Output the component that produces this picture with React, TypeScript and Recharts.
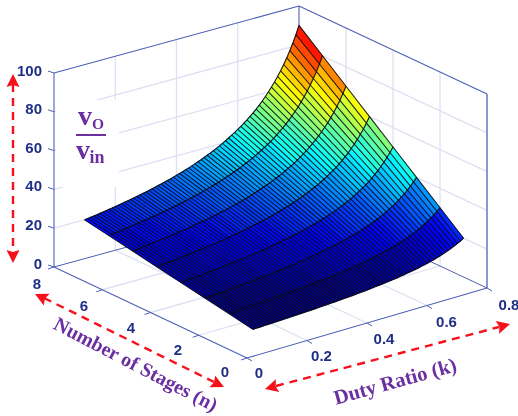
import React from 'react';
import { ScatterChart, Scatter, XAxis, YAxis } from 'recharts';

// one line per stage count, read along the duty ratio from 0.10 to 0.80
const dutyRatio = [
  0.1, 0.11, 0.12, 0.13, 0.14, 0.15, 0.16, 0.17, 0.18, 0.19,
  0.2, 0.21, 0.22, 0.23, 0.24, 0.25, 0.26, 0.27, 0.28, 0.29,
  0.3, 0.31, 0.32, 0.33, 0.34, 0.35, 0.36, 0.37, 0.38, 0.39,
  0.4, 0.41, 0.42, 0.43, 0.44, 0.45, 0.46, 0.47, 0.48, 0.49,
  0.5, 0.51, 0.52, 0.53, 0.54, 0.55, 0.56, 0.57, 0.58, 0.59,
  0.6, 0.61, 0.62, 0.63, 0.64, 0.65, 0.66, 0.67, 0.68, 0.69,
  0.7, 0.71, 0.72, 0.73, 0.74, 0.75, 0.76, 0.77, 0.78, 0.79, 0.8,
];
const stages = [1, 2, 3, 4, 5, 6, 7, 8];

const gainN1 = [
  4.4, 4.5, 4.5, 4.6, 4.7, 4.7, 4.8, 4.8, 4.9, 4.9,
  5.0, 5.1, 5.1, 5.2, 5.3, 5.3, 5.4, 5.5, 5.6, 5.6,
  5.7, 5.8, 5.9, 6.0, 6.1, 6.2, 6.3, 6.3, 6.5, 6.6,
  6.7, 6.8, 6.9, 7.0, 7.1, 7.3, 7.4, 7.5, 7.7, 7.8,
  8.0, 8.2, 8.3, 8.5, 8.7, 8.9, 9.1, 9.3, 9.5, 9.8,
  10.0, 10.3, 10.5, 10.8, 11.1, 11.4, 11.8, 12.1, 12.5, 12.9,
  13.3, 13.8, 14.3, 14.8, 15.4, 16.0, 16.7, 17.4, 18.2, 19.0, 20.0,
];
const gainN2 = [
  6.7, 6.7, 6.8, 6.9, 7.0, 7.1, 7.1, 7.2, 7.3, 7.4,
  7.5, 7.6, 7.7, 7.8, 7.9, 8.0, 8.1, 8.2, 8.3, 8.5,
  8.6, 8.7, 8.8, 9.0, 9.1, 9.2, 9.4, 9.5, 9.7, 9.8,
  10.0, 10.2, 10.3, 10.5, 10.7, 10.9, 11.1, 11.3, 11.5, 11.8,
  12.0, 12.2, 12.5, 12.8, 13.0, 13.3, 13.6, 14.0, 14.3, 14.6,
  15.0, 15.4, 15.8, 16.2, 16.7, 17.1, 17.6, 18.2, 18.8, 19.4,
  20.0, 20.7, 21.4, 22.2, 23.1, 24.0, 25.0, 26.1, 27.3, 28.6, 30.0,
];
const gainN3 = [
  8.9, 9.0, 9.1, 9.2, 9.3, 9.4, 9.5, 9.6, 9.8, 9.9,
  10.0, 10.1, 10.3, 10.4, 10.5, 10.7, 10.8, 11.0, 11.1, 11.3,
  11.4, 11.6, 11.8, 11.9, 12.1, 12.3, 12.5, 12.7, 12.9, 13.1,
  13.3, 13.6, 13.8, 14.0, 14.3, 14.5, 14.8, 15.1, 15.4, 15.7,
  16.0, 16.3, 16.7, 17.0, 17.4, 17.8, 18.2, 18.6, 19.0, 19.5,
  20.0, 20.5, 21.1, 21.6, 22.2, 22.9, 23.5, 24.2, 25.0, 25.8,
  26.7, 27.6, 28.6, 29.6, 30.8, 32.0, 33.3, 34.8, 36.4, 38.1, 40.0,
];
const gainN4 = [
  11.1, 11.2, 11.4, 11.5, 11.6, 11.8, 11.9, 12.0, 12.2, 12.3,
  12.5, 12.7, 12.8, 13.0, 13.2, 13.3, 13.5, 13.7, 13.9, 14.1,
  14.3, 14.5, 14.7, 14.9, 15.2, 15.4, 15.6, 15.9, 16.1, 16.4,
  16.7, 16.9, 17.2, 17.5, 17.9, 18.2, 18.5, 18.9, 19.2, 19.6,
  20.0, 20.4, 20.8, 21.3, 21.7, 22.2, 22.7, 23.3, 23.8, 24.4,
  25.0, 25.6, 26.3, 27.0, 27.8, 28.6, 29.4, 30.3, 31.3, 32.3,
  33.3, 34.5, 35.7, 37.0, 38.5, 40.0, 41.7, 43.5, 45.5, 47.6, 50.0,
];
const gainN5 = [
  13.3, 13.5, 13.6, 13.8, 14.0, 14.1, 14.3, 14.5, 14.6, 14.8,
  15.0, 15.2, 15.4, 15.6, 15.8, 16.0, 16.2, 16.4, 16.7, 16.9,
  17.1, 17.4, 17.6, 17.9, 18.2, 18.5, 18.8, 19.0, 19.4, 19.7,
  20.0, 20.3, 20.7, 21.1, 21.4, 21.8, 22.2, 22.6, 23.1, 23.5,
  24.0, 24.5, 25.0, 25.5, 26.1, 26.7, 27.3, 27.9, 28.6, 29.3,
  30.0, 30.8, 31.6, 32.4, 33.3, 34.3, 35.3, 36.4, 37.5, 38.7,
  40.0, 41.4, 42.9, 44.4, 46.2, 48.0, 50.0, 52.2, 54.5, 57.1, 60.0,
];
const gainN6 = [
  15.6, 15.7, 15.9, 16.1, 16.3, 16.5, 16.7, 16.9, 17.1, 17.3,
  17.5, 17.7, 17.9, 18.2, 18.4, 18.7, 18.9, 19.2, 19.4, 19.7,
  20.0, 20.3, 20.6, 20.9, 21.2, 21.5, 21.9, 22.2, 22.6, 23.0,
  23.3, 23.7, 24.1, 24.6, 25.0, 25.5, 25.9, 26.4, 26.9, 27.5,
  28.0, 28.6, 29.2, 29.8, 30.4, 31.1, 31.8, 32.6, 33.3, 34.1,
  35.0, 35.9, 36.8, 37.8, 38.9, 40.0, 41.2, 42.4, 43.8, 45.2,
  46.7, 48.3, 50.0, 51.9, 53.8, 56.0, 58.3, 60.9, 63.6, 66.7, 70.0,
];
const gainN7 = [
  17.8, 18.0, 18.2, 18.4, 18.6, 18.8, 19.0, 19.3, 19.5, 19.8,
  20.0, 20.3, 20.5, 20.8, 21.1, 21.3, 21.6, 21.9, 22.2, 22.5,
  22.9, 23.2, 23.5, 23.9, 24.2, 24.6, 25.0, 25.4, 25.8, 26.2,
  26.7, 27.1, 27.6, 28.1, 28.6, 29.1, 29.6, 30.2, 30.8, 31.4,
  32.0, 32.7, 33.3, 34.0, 34.8, 35.6, 36.4, 37.2, 38.1, 39.0,
  40.0, 41.0, 42.1, 43.2, 44.4, 45.7, 47.1, 48.5, 50.0, 51.6,
  53.3, 55.2, 57.1, 59.3, 61.5, 64.0, 66.7, 69.6, 72.7, 76.2, 80.0,
];
const gainN8 = [
  20.0, 20.2, 20.5, 20.7, 20.9, 21.2, 21.4, 21.7, 22.0, 22.2,
  22.5, 22.8, 23.1, 23.4, 23.7, 24.0, 24.3, 24.7, 25.0, 25.4,
  25.7, 26.1, 26.5, 26.9, 27.3, 27.7, 28.1, 28.6, 29.0, 29.5,
  30.0, 30.5, 31.0, 31.6, 32.1, 32.7, 33.3, 34.0, 34.6, 35.3,
  36.0, 36.7, 37.5, 38.3, 39.1, 40.0, 40.9, 41.9, 42.9, 43.9,
  45.0, 46.2, 47.4, 48.6, 50.0, 51.4, 52.9, 54.5, 56.2, 58.1,
  60.0, 62.1, 64.3, 66.7, 69.2, 72.0, 75.0, 78.3, 81.8, 85.7, 90.0,
];
const gains = [gainN1, gainN2, gainN3, gainN4, gainN5, gainN6, gainN7, gainN8];

const zTicks = [0, 20, 40, 60, 80, 100];
const nTicks = [0, 2, 4, 6, 8];
const kTicks = [0, 0.2, 0.4, 0.6, 0.8];

const WIDTH = 518;
const HEIGHT = 416;
const NAVY = '#1f2f86';
const PURPLE = '#6b2fa0';
const RED = '#f5101a';
const BOX = '#4d5fb3';
const GRID = '#dde0f3';

// view of the 3d box on the picture plane
const floor = { a: [247, 358], b: [487, 288], c: [54, 267], d: [299, 200] };
const zScale = 1.94;

function project(k: number, n: number, z: number) {
  const u = k / 0.8;
  const v = n / 8;
  const x = (1 - u) * (1 - v) * floor.a[0] + u * (1 - v) * floor.b[0] + (1 - u) * v * floor.c[0] + u * v * floor.d[0];
  const y = (1 - u) * (1 - v) * floor.a[1] + u * (1 - v) * floor.b[1] + (1 - u) * v * floor.c[1] + u * v * floor.d[1];
  return { x, y: y - z * zScale };
}

// matlab style jet, 64 steps
function jet(z: number) {
  const level = Math.max(0, Math.min(63, Math.floor(((z - 6) / 87) * 64)));
  const t = (level + 0.5) / 64;
  const ch = (c: number) => Math.round(255 * Math.max(0, Math.min(1, 1.5 - Math.abs(4 * t - c))));
  return `rgb(${ch(3)},${ch(2)},${ch(1)})`;
}

const facets: any[] = [];
for (let i = stages.length - 2; i >= 0; i--) {
  for (let j = dutyRatio.length - 2; j >= 0; j--) {
    const corners = [
      project(dutyRatio[j], stages[i], gains[i][j]),
      project(dutyRatio[j + 1], stages[i], gains[i][j + 1]),
      project(dutyRatio[j + 1], stages[i + 1], gains[i + 1][j + 1]),
      project(dutyRatio[j], stages[i + 1], gains[i + 1][j]),
    ];
    facets.push({ ...corners[0], corners, fill: jet(gains[i][j + 1]) });
  }
}

const noMark = () => null;

function Facet(props: any) {
  const { cx, cy, payload } = props;
  const pts = payload.corners.map((c: any) => `${cx + c.x - payload.x},${cy + c.y - payload.y}`).join(' ');
  return <polygon points={pts} fill={payload.fill} stroke={payload.fill} strokeWidth={0.6} />;
}

function Label(props: any) {
  const { cx, cy, payload } = props;
  return (
    <text
      x={cx}
      y={cy}
      textAnchor={payload.anchor || 'middle'}
      dominantBaseline="central"
      fontFamily={payload.serif ? '"Liberation Serif", serif' : '"Liberation Sans", Arial, sans-serif'}
      fontWeight="bold"
      fontSize={payload.size}
      fill={payload.color}
      transform={payload.angle ? `rotate(${payload.angle} ${cx} ${cy})` : undefined}
    >
      {payload.text}
    </text>
  );
}

function ArrowHead(props: any) {
  const { cx, cy, payload } = props;
  return <polygon points="0,0 -13,-6.5 -11,0 -13,6.5" fill={RED} transform={`translate(${cx} ${cy}) rotate(${payload.angle})`} />;
}

function WhitePatch(props: any) {
  const { cx, cy } = props;
  return <rect x={cx} y={cy} width={63} height={87} fill="#fff" />;
}

function seg(key: string, data: any[], stroke: string, width: number, extra: any = {}) {
  return (
    <Scatter
      key={key}
      data={data}
      line={{ stroke, strokeWidth: width, ...extra }}
      shape={noMark}
      isAnimationActive={false}
    />
  );
}

function labels(key: string, data: any[]) {
  return <Scatter key={key} data={data} shape={Label} isAnimationActive={false} />;
}

function App() {
  const walls: any[] = [];
  zTicks.slice(1, -1).forEach((z) => {
    walls.push(seg(`wl${z}`, [project(0, 8, z), project(0.8, 8, z)], GRID, 1.3));
    walls.push(seg(`wr${z}`, [project(0.8, 8, z), project(0.8, 0, z)], GRID, 1.3));
  });
  kTicks.slice(1, -1).forEach((k) => {
    walls.push(seg(`kv${k}`, [project(k, 8, 0), project(k, 8, 100)], GRID, 1.3));
    walls.push(seg(`kf${k}`, [project(k, 0, 0), project(k, 8, 0)], GRID, 1.3));
  });
  nTicks.slice(1, -1).forEach((n) => {
    walls.push(seg(`nv${n}`, [project(0.8, n, 0), project(0.8, n, 100)], GRID, 1.3));
    walls.push(seg(`nf${n}`, [project(0, n, 0), project(0.8, n, 0)], GRID, 1.3));
  });

  const ticks: any[] = [];
  zTicks.forEach((z) => {
    const p = project(0, 8, z);
    ticks.push(seg(`tz${z}`, [p, { x: p.x - 6, y: p.y - 2 }], BOX, 1));
  });
  nTicks.forEach((n) => {
    const p = project(0, n, 0);
    ticks.push(seg(`tn${n}`, [p, { x: p.x - 6, y: p.y + 2 }], BOX, 1));
  });
  kTicks.forEach((k) => {
    const p = project(k, 0, 0);
    ticks.push(seg(`tk${k}`, [p, { x: p.x + 5, y: p.y + 3 }], BOX, 1));
  });

  const zLabels = zTicks.map((z, i) => ({ x: 42, y: 263 - i * 38.6, text: String(z), anchor: 'end', size: 15, color: NAVY }));
  const nLabels = nTicks.map((n, i) => ({ x: 225 - i * 47, y: 371 - i * 22, text: String(n), size: 15, color: NAVY }));
  const kLabels = kTicks.map((k, i) => ({ x: 259 + i * 62.5, y: 372 - i * 16.8, text: String(k), size: 15, color: NAVY }));

  return (
    <div style={{ position: 'absolute', left: 0, top: 0, width: WIDTH, height: HEIGHT, filter: 'blur(0.3px)' }}>
      <ScatterChart width={WIDTH} height={HEIGHT} margin={{ top: 0, right: 0, bottom: 0, left: 0 }}>
        <XAxis type="number" dataKey="x" domain={[0, WIDTH]} hide />
        <YAxis type="number" dataKey="y" domain={[0, HEIGHT]} reversed hide />

        {walls}
        <Scatter data={[{ x: 56, y: 100 }]} shape={WhitePatch} isAnimationActive={false} />

        {seg('top-l', [project(0, 8, 100), project(0.8, 8, 100)], BOX, 1.1)}
        {seg('top-r', [project(0.8, 8, 100), project(0.8, 0, 100)], BOX, 1.1)}
        {seg('back-v', [project(0.8, 8, 0), project(0.8, 8, 100)], BOX, 1.1)}
        {seg('left-v', [project(0, 8, 0), project(0, 8, 100)], '#5f6fc0', 1.2)}
        {seg('right-v', [project(0.8, 0, 0), project(0.8, 0, 100)], '#8d97cf', 2)}
        {seg('floor-bl', [project(0, 8, 0), project(0.8, 8, 0)], BOX, 1)}
        {seg('floor-br', [project(0.8, 8, 0), project(0.8, 0, 0)], BOX, 1)}
        {seg('floor-fl', [project(0, 8, 0), project(0, 0, 0)], BOX, 1.1)}
        {seg('floor-fr', [project(0, 0, 0), project(0.8, 0, 0)], BOX, 1.1)}
        {ticks}

        <Scatter data={facets} shape={Facet} isAnimationActive={false} />
        {dutyRatio.map((k, j) =>
          seg(`mk${j}`, stages.map((n, i) => project(k, n, gains[i][j])), '#0a0a14', 1.05, { strokeOpacity: 0.9 })
        )}
        {stages.map((n, i) =>
          seg(`mn${i}`, dutyRatio.map((k, j) => project(k, n, gains[i][j])), '#0a0a14', 1.1, { strokeOpacity: 0.95 })
        )}

        {labels('z-labels', zLabels)}
        {labels('n-labels', nLabels)}
        {labels('k-labels', kLabels)}

        {seg('arrow-z', [{ x: 13, y: 84 }, { x: 13, y: 252 }], RED, 2.4, { strokeDasharray: '8 6' })}
        {seg('arrow-n', [{ x: 44, y: 298 }, { x: 214, y: 382 }], RED, 2.4, { strokeDasharray: '8 6' })}
        {seg('arrow-k', [{ x: 276, y: 386 }, { x: 499, y: 327 }], RED, 2.4, { strokeDasharray: '8 6' })}
        <Scatter
          data={[
            { x: 13, y: 74, angle: -90 },
            { x: 13, y: 263, angle: 90 },
            { x: 35, y: 294, angle: 206 },
            { x: 224, y: 387, angle: 26 },
            { x: 265, y: 389, angle: 165 },
            { x: 510, y: 324, angle: -15 },
          ]}
          shape={ArrowHead}
          isAnimationActive={false}
        />

        {labels('titles', [
          { x: 136, y: 364, text: 'Number of Stages (n)', size: 20, color: PURPLE, serif: true, angle: 27.5 },
          { x: 395, y: 381, text: 'Duty Ratio (k)', size: 20.5, color: PURPLE, serif: true, angle: -15.5 },
        ])}
        {seg('frac', [{ x: 76, y: 135 }, { x: 106, y: 135 }], PURPLE, 2)}
        {labels('frac-text', [
          { x: 85, y: 115, text: 'v', size: 28, color: PURPLE, serif: true },
          { x: 98, y: 123, text: 'O', size: 15.5, color: PURPLE, serif: true },
          { x: 83, y: 149, text: 'v', size: 28, color: PURPLE, serif: true },
          { x: 97, y: 157, text: 'in', size: 18, color: PURPLE, serif: true },
        ])}
      </ScatterChart>
    </div>
  );
}

export default App;
